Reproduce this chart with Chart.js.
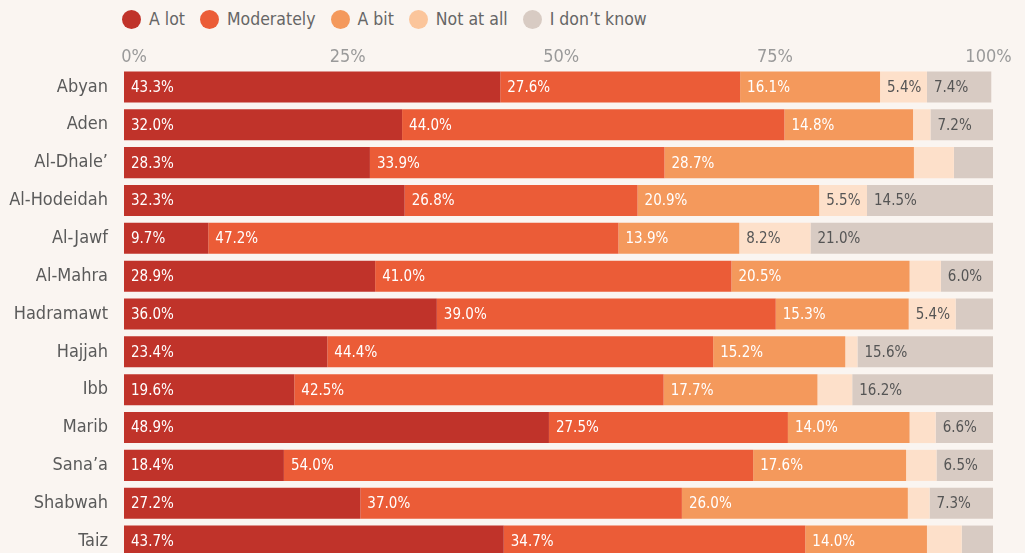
<!DOCTYPE html>
<html>
<head>
<meta charset="utf-8">
<script src="https://cdn.jsdelivr.net/npm/chart.js@4"></script>
<style>
  html, body { margin: 0; padding: 0; background: #faf5f1; overflow: hidden; }
  body { width: 1025px; height: 553px; position: relative; font-family: "Liberation Sans Narrow", "DejaVu Sans Condensed", sans-serif; }
  #legend { position: absolute; left: 122px; top: 9px; display: flex; align-items: center; font-size: 17.5px; color: #666; }
  #legend .item { display: flex; align-items: center; margin-right: 15px; }
  #legend .dot { width: 19px; height: 19px; border-radius: 50%; margin-right: 8px; }
  #chart { position: absolute; left: 0; top: 0; }
</style>
</head>
<body>
<div id="legend"></div>
<canvas id="chart" width="1025" height="560"></canvas>
<script>
const categories = ["Abyan", "Aden", "Al-Dhale’", "Al-Hodeidah", "Al-Jawf", "Al-Mahra", "Hadramawt", "Hajjah", "Ibb", "Marib", "Sana’a", "Shabwah", "Taiz"];
const seriesNames = ["A lot", "Moderately", "A bit", "Not at all", "I don’t know"];
const aLot = [43.3, 32.0, 28.3, 32.3, 9.7, 28.9, 36.0, 23.4, 19.6, 48.9, 18.4, 27.2, 43.7];
const moderately = [27.6, 44.0, 33.9, 26.8, 47.2, 41.0, 39.0, 44.4, 42.5, 27.5, 54.0, 37.0, 34.7];
const aBit = [16.1, 14.8, 28.7, 20.9, 13.9, 20.5, 15.3, 15.2, 17.7, 14.0, 17.6, 26.0, 14.0];
const notAtAll = [5.4, 2.0, 4.6, 5.5, 8.2, 3.6, 5.4, 1.4, 4.0, 3.0, 3.5, 2.5, 4.0];
const dontKnow = [7.4, 7.2, 4.5, 14.5, 21.0, 6.0, 4.3, 15.6, 16.2, 6.6, 6.5, 7.3, 3.6];
const tickValues = [0, 25, 50, 75, 100];

const colors = ["#c0332a", "#eb5c37", "#f4995c", "#fde0ca", "#d8cbc3"];
const legendColors = ["#c0332a", "#eb5c37", "#f4995c", "#fbc59b", "#d8cbc3"];
const labelColors = ["#fff", "#fff", "#fff", "#555", "#555"];
const FONT = "'Liberation Sans Narrow', 'DejaVu Sans Condensed', sans-serif";

// html legend
const legend = document.getElementById("legend");
seriesNames.forEach((name, i) => {
  const item = document.createElement("div");
  item.className = "item";
  item.innerHTML = `<span class="dot" style="background:${legendColors[i]}"></span><span>${name}</span>`;
  legend.appendChild(item);
});

// value labels inside the bars
const barLabels = {
  id: "barLabels",
  afterDatasetsDraw(chart) {
    const ctx = chart.ctx;
    ctx.save();
    ctx.font = `15px ${FONT}`;
    ctx.textBaseline = "middle";
    ctx.textAlign = "left";
    chart.data.datasets.forEach((ds, di) => {
      chart.getDatasetMeta(di).data.forEach((bar, i) => {
        const v = ds.data[i];
        if (v < 5) return;
        ctx.fillStyle = labelColors[di];
        ctx.fillText(v.toFixed(1) + "%", Math.min(bar.base, bar.x) + 7, bar.y + 1);
      });
    });
    ctx.restore();
  },
};

// percent ticks along the top
const topTicks = {
  id: "topTicks",
  afterDraw(chart) {
    const ctx = chart.ctx;
    const x = chart.scales.x;
    ctx.save();
    ctx.font = `18px ${FONT}`;
    ctx.fillStyle = "#9a9a9a";
    ctx.textAlign = "center";
    ctx.textBaseline = "middle";
    tickValues.forEach((v) => {
      const nudge = 10 - v * 0.145;
      ctx.fillText(v + "%", x.getPixelForValue(v) + nudge, 57);
    });
    ctx.restore();
  },
};

const datasets = [aLot, moderately, aBit, notAtAll, dontKnow].map((d, i) => ({
  label: seriesNames[i],
  data: d,
  backgroundColor: colors[i],
  borderWidth: 0,
  barPercentage: 1,
  categoryPercentage: 0.82,
}));

new Chart(document.getElementById("chart"), {
  type: "bar",
  data: { labels: categories, datasets },
  plugins: [barLabels, topTicks],
  options: {
    indexAxis: "y",
    responsive: false,
    animation: false,
    layout: { padding: { top: 48, right: 32, bottom: 0, left: 0 } },
    plugins: { legend: { display: false }, tooltip: { enabled: false } },
    scales: {
      x: {
        position: "top",
        stacked: true,
        min: 0,
        max: 100,
        grid: { display: false },
        border: { display: false },
        ticks: { display: false },
        afterFit: (s) => { s.height = 20; s.paddingLeft = 0; s.paddingRight = 0; },
      },
      y: {
        stacked: true,
        grid: { display: false, drawTicks: false },
        border: { display: false },
        ticks: { color: "#5a5a5a", font: { family: FONT, size: 18 }, padding: 16 },
        afterFit: (s) => { s.width = 124; s.paddingTop = 0; s.paddingBottom = 0; },
      },
    },
  },
});
</script>
</body>
</html>
